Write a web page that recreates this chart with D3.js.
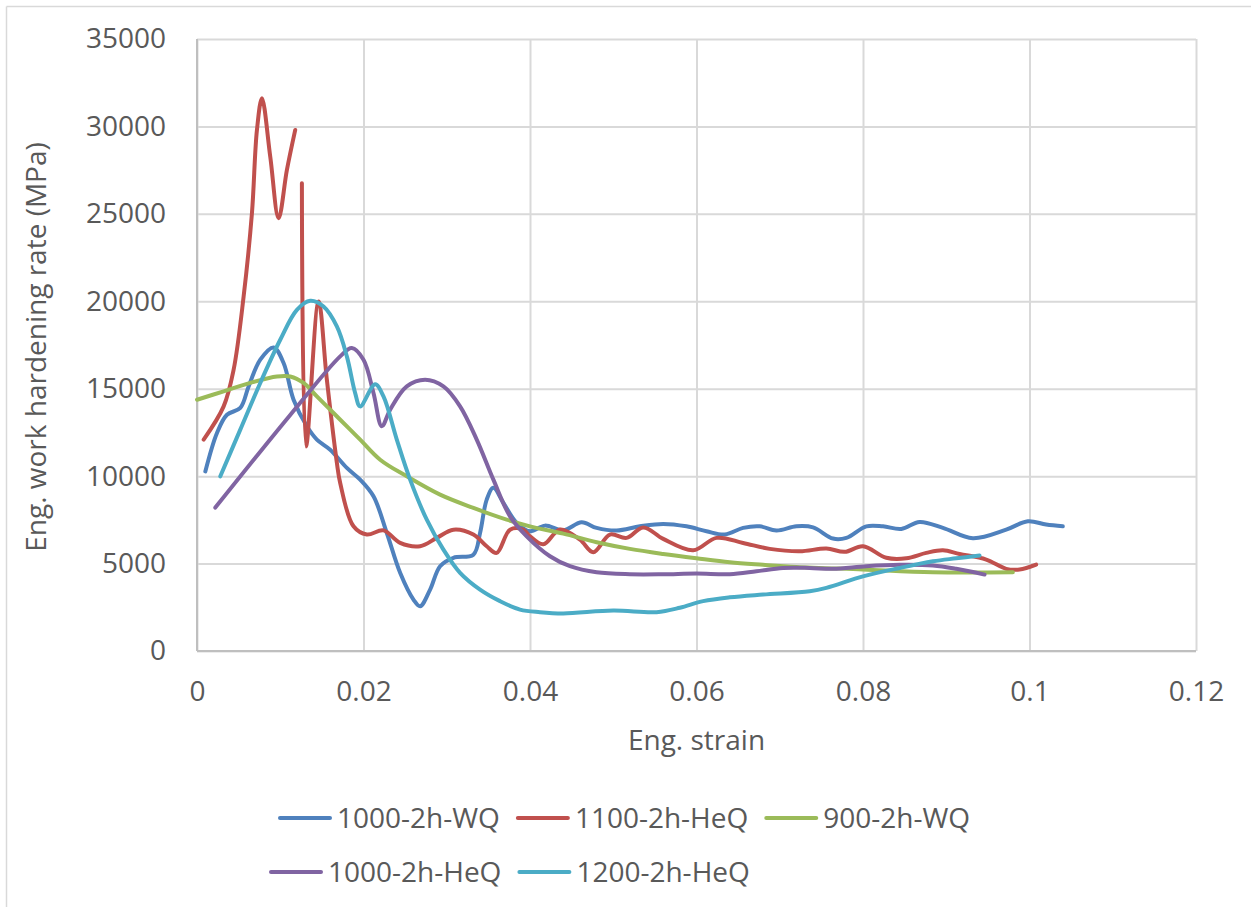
<!DOCTYPE html>
<html>
<head>
<meta charset="utf-8">
<script src="https://cdn.jsdelivr.net/npm/d3@7"></script>
<style>
  body { margin: 0; background: #fff; }
  text { font-family: "Open Sans", sans-serif; fill: #595959; }
</style>
</head>
<body>
<svg class="chart"></svg>
<script>
// series names and colours
var seriesNames = ["1000-2h-WQ", "1100-2h-HeQ", "900-2h-WQ", "1000-2h-HeQ", "1200-2h-HeQ"];
var seriesColors = ["#4F81BD", "#C0504D", "#9BBB59", "#8064A2", "#4BACC6"];

var xTicks = [0, 0.02, 0.04, 0.06, 0.08, 0.1, 0.12];
var yTicks = [0, 5000, 10000, 15000, 20000, 25000, 30000, 35000];

// [strain, rate]
var wq1000 = [[0.001,10270],[0.0024,12470],[0.0036,13510],[0.0052,13900],[0.0062,15130],[0.0076,16660],[0.0092,17360],[0.0104,16470],[0.0116,14370],[0.0132,12850],[0.0144,12090],[0.016,11510],[0.018,10470],[0.0196,9800],[0.0212,8850],[0.0228,6750],[0.0244,4470],[0.026,2940],[0.0268,2560],[0.028,3510],[0.0292,4850],[0.0308,5330],[0.0332,5510],[0.034,6750],[0.0348,8660],[0.0356,9330],[0.0368,8470],[0.0384,7330],[0.04,6850],[0.0418,7170],[0.044,6900],[0.0462,7360],[0.048,7040],[0.0504,6890],[0.0532,7130],[0.056,7270],[0.0588,7130],[0.0612,6850],[0.0634,6660],[0.0656,7040],[0.0676,7130],[0.0696,6890],[0.072,7130],[0.074,7070],[0.0764,6430],[0.078,6470],[0.0804,7130],[0.0824,7130],[0.0846,6980],[0.0868,7380],[0.0896,7040],[0.0932,6450],[0.0972,6940],[0.0998,7420],[0.102,7230],[0.104,7130]];

var heq1100 = [[0.0008,12090],[0.0032,13990],[0.0044,16090],[0.0056,20270],[0.0066,25040],[0.0072,29800],[0.0078,31610],[0.0088,28270],[0.0098,24750],[0.0108,27510],[0.0118,29800],null,[0.0126,26750],[0.0131,11700],[0.0146,19990],[0.0156,15510],[0.0168,10770],[0.0172,9610],[0.0188,7130],[0.0204,6660],[0.0224,6900],[0.0244,6180],[0.0268,5990],[0.0288,6470],[0.0308,6940],[0.0332,6660],[0.0348,5990],[0.036,5610],[0.0376,6940],[0.0392,6940],[0.04,6560],[0.0416,6100],[0.0436,6950],[0.046,6370],[0.0476,5650],[0.0496,6660],[0.0516,6470],[0.0536,7070],[0.056,6410],[0.0596,5760],[0.0624,6470],[0.0656,6180],[0.0688,5840],[0.0724,5700],[0.0756,5860],[0.0778,5670],[0.08,5990],[0.0828,5330],[0.0852,5300],[0.0876,5610],[0.0896,5760],[0.0916,5550],[0.0948,5230],[0.0972,4700],[0.0988,4660],[0.1008,4940]];

var wq900 = [[0,14370],[0.0032,14850],[0.0064,15330],[0.0096,15700],[0.0112,15700],[0.0128,15330],[0.0144,14560],[0.0164,13610],[0.0184,12660],[0.0196,12090],[0.022,10940],[0.0252,9990],[0.0292,8940],[0.0332,8180],[0.0372,7510],[0.04,7130],[0.044,6710],[0.048,6220],[0.052,5840],[0.056,5550],[0.06,5300],[0.064,5070],[0.068,4930],[0.072,4810],[0.08,4660],[0.0884,4500],[0.098,4500]];

var heq1000 = [[0.0022,8200],[0.0112,13500],[0.0172,16850],[0.0186,17330],[0.02,16660],[0.0212,14750],[0.0222,12850],[0.0232,13800],[0.0252,15130],[0.0274,15510],[0.0296,15130],[0.0316,13990],[0.0336,12090],[0.0356,9800],[0.0376,7700],[0.0396,6560],[0.0424,5420],[0.0448,4850],[0.048,4500],[0.052,4390],[0.056,4390],[0.06,4430],[0.064,4390],[0.0672,4560],[0.0704,4750],[0.0736,4750],[0.0764,4700],[0.0804,4850],[0.0844,4930],[0.0884,4890],[0.0912,4700],[0.0946,4370]];

var heq1200 = [[0.0028,9990],[0.0052,12660],[0.0076,15330],[0.01,17800],[0.012,19510],[0.0136,20030],[0.0152,19700],[0.0168,18560],[0.018,16850],[0.019,14750],[0.0196,13990],[0.0214,15250],[0.0224,14560],[0.024,12090],[0.0256,9800],[0.0276,7510],[0.0296,5800],[0.0316,4470],[0.034,3510],[0.0364,2850],[0.0388,2370],[0.0412,2220],[0.044,2150],[0.05,2310],[0.0552,2220],[0.058,2470],[0.0608,2850],[0.064,3070],[0.068,3230],[0.0736,3420],[0.0756,3610],[0.08,4270],[0.0844,4750],[0.0884,5130],[0.0912,5300],[0.094,5460]];

var allSeries = [wq1000, heq1100, wq900, heq1000, heq1200];

var W = 1251, H = 907;
var margin = {top: 39, right: 55, bottom: 256, left: 197};
var chartWidth = W - margin.left - margin.right;
var chartHeight = H - margin.top - margin.bottom;

var x = d3.scaleLinear().domain([0, 0.12]).range([0, chartWidth]);
var y = d3.scaleLinear().domain([0, 35000]).range([chartHeight, 0]);

var svg = d3.select(".chart").attr("width", W).attr("height", H);

// outer border (top + left visible)
svg.append("line").attr("x1", 6.5).attr("y1", 6.5).attr("x2", W).attr("y2", 6.5)
   .attr("stroke", "#d9d9d9").attr("stroke-width", 1.5);
svg.append("line").attr("x1", 6.5).attr("y1", 6.5).attr("x2", 6.5).attr("y2", H)
   .attr("stroke", "#d9d9d9").attr("stroke-width", 1.5);

var chart = svg.append("g").attr("transform", "translate(" + margin.left + "," + margin.top + ")");

// gridlines
chart.append("g")
   .attr("class", "grid")
   .call(d3.axisLeft(y).tickValues(yTicks).tickSize(-chartWidth).tickFormat(""))
   .call(function(g) { g.select(".domain").remove(); })
   .selectAll("line").attr("stroke", "#d9d9d9").attr("stroke-width", 2);

chart.append("g")
   .attr("class", "grid")
   .attr("transform", "translate(0," + chartHeight + ")")
   .call(d3.axisBottom(x).tickValues(xTicks).tickSize(-chartHeight).tickFormat(""))
   .call(function(g) { g.select(".domain").remove(); })
   .selectAll("line").attr("stroke", "#d9d9d9").attr("stroke-width", 2);

// axis lines
chart.append("line").attr("x1", 0).attr("x2", chartWidth).attr("y1", chartHeight).attr("y2", chartHeight)
   .attr("stroke", "#bfbfbf").attr("stroke-width", 2);
chart.append("line").attr("x1", 0).attr("x2", 0).attr("y1", 0).attr("y2", chartHeight)
   .attr("stroke", "#bfbfbf").attr("stroke-width", 2);

// x axis labels
var xAxis = chart.append("g")
   .attr("transform", "translate(0," + chartHeight + ")")
   .call(d3.axisBottom(x).tickValues(xTicks).tickSize(0).tickPadding(30)
         .tickFormat(function(d) { return d === 0 ? "0" : String(+d.toFixed(2)); }));
xAxis.select(".domain").remove();
xAxis.selectAll("text").style("font-size", "28px").style("font-family", "'Open Sans', sans-serif").attr("fill", "#595959");

// y axis labels
var yAxis = chart.append("g")
   .call(d3.axisLeft(y).tickValues(yTicks).tickSize(0).tickPadding(31).tickFormat(d3.format("d")));
yAxis.select(".domain").remove();
yAxis.selectAll("text").style("font-size", "28px").style("font-family", "'Open Sans', sans-serif").attr("fill", "#595959");

// axis titles
chart.append("text")
   .attr("x", chartWidth / 2)
   .attr("y", chartHeight + 99)
   .style("text-anchor", "middle")
   .style("font-size", "28px")
   .text("Eng. strain");

svg.append("text")
   .attr("transform", "translate(46," + (margin.top + chartHeight / 2 + 2) + ") rotate(-90)")
   .style("text-anchor", "middle")
   .style("font-size", "28px")
   .text("Eng. work hardening rate (MPa)");

// series lines
var line = d3.line()
   .defined(function(d) { return d !== null; })
   .x(function(d) { return x(d[0]); })
   .y(function(d) { return y(d[1]); })
   .curve(d3.curveCatmullRom.alpha(0.5));

var drawOrder = [0, 1, 2, 3, 4];
drawOrder.forEach(function(i) {
  chart.append("path")
     .datum(allSeries[i])
     .attr("fill", "none")
     .attr("stroke", seriesColors[i])
     .attr("stroke-width", 4)
     .attr("stroke-linejoin", "round")
     .attr("stroke-linecap", "round")
     .attr("d", line);
});

// legend
var legendRows = [[0, 1, 2], [3, 4]];
var legendRowY = [818, 872];
var legendRowX = [280, 271];
legendRows.forEach(function(row, r) {
  var cx = legendRowX[r];
  row.forEach(function(i) {
    var item = svg.append("g").attr("transform", "translate(" + cx + "," + legendRowY[r] + ")");
    item.append("line").attr("x1", 0).attr("x2", 50).attr("y1", 0).attr("y2", 0)
        .attr("stroke", seriesColors[i]).attr("stroke-width", 4).attr("stroke-linecap", "round");
    var t = item.append("text").attr("x", 57).attr("y", 10)
        .style("font-size", "28px").text(seriesNames[i]);
    cx += 57 + t.node().getComputedTextLength() + 18;
  });
});
</script>
</body>
</html>
